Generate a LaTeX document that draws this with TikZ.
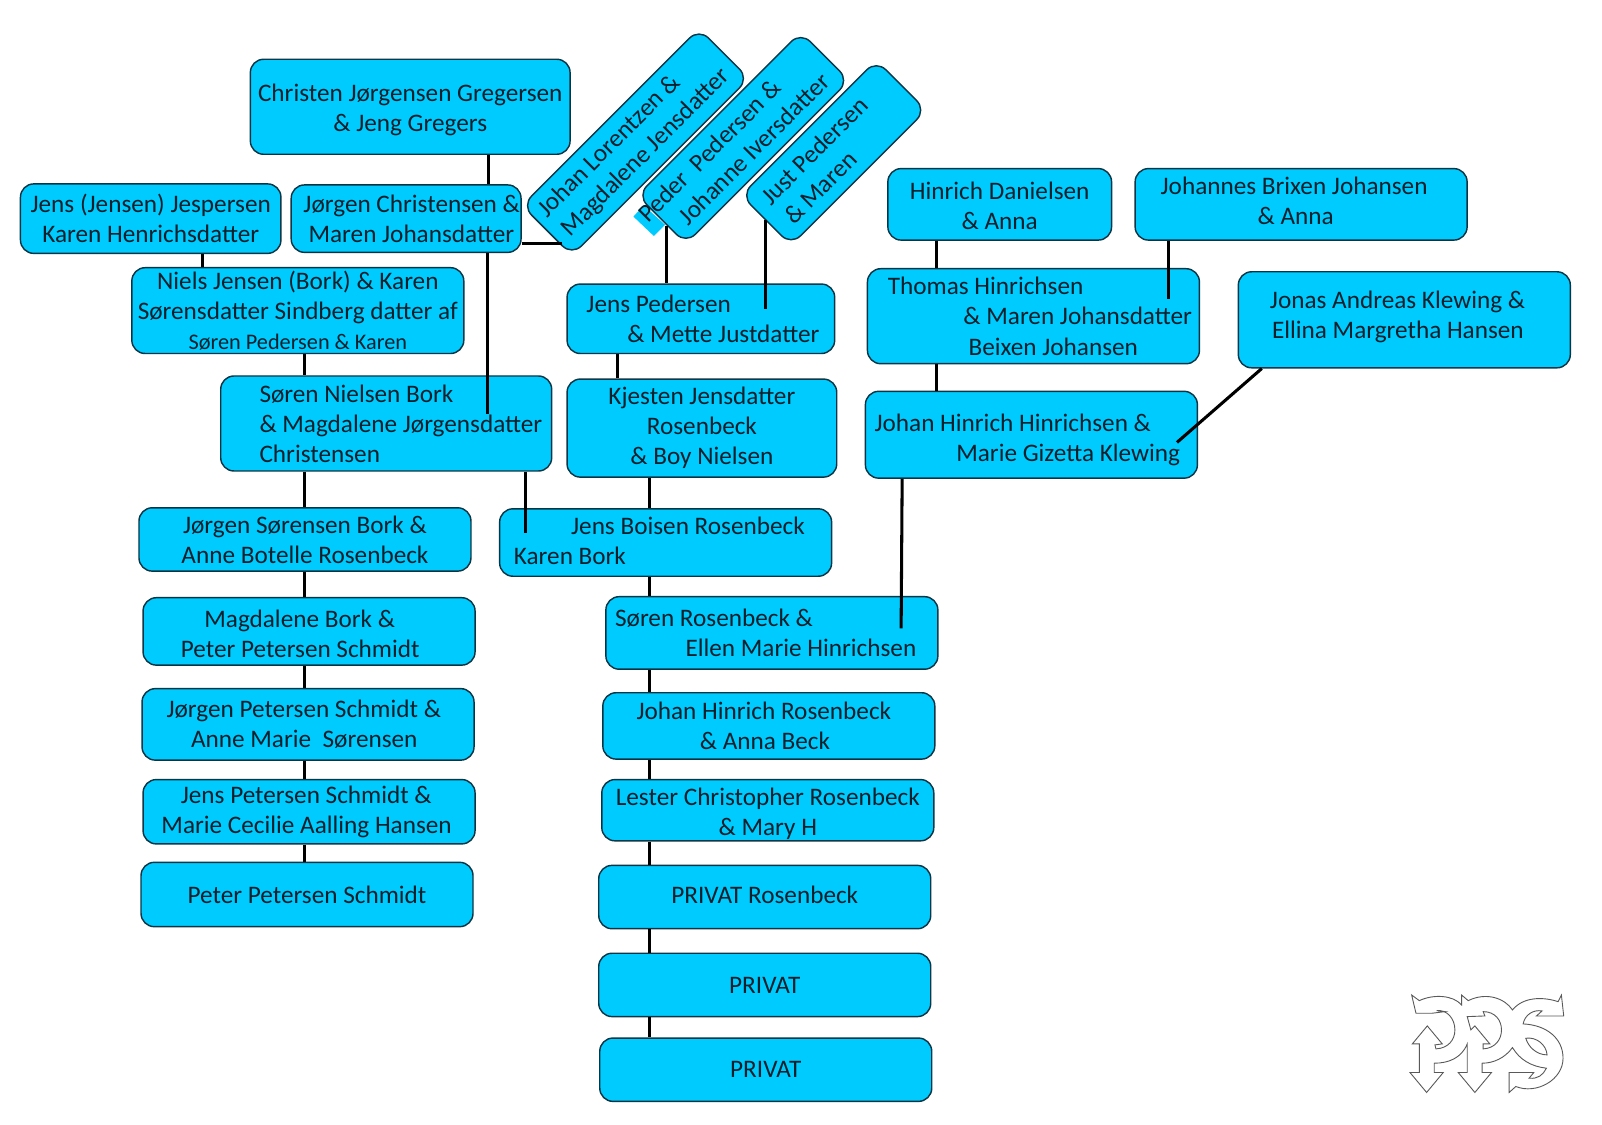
\documentclass[tikz,border=0pt]{standalone}
\usepackage{fontspec}
\setmainfont{Carlito}
\usepackage{tikz}
\usetikzlibrary{arrows.meta,positioning,calc}
\definecolor{fam-blue}{HTML}{00CBFF}
\definecolor{fam-edge}{HTML}{0B3544}
\definecolor{fam-text}{HTML}{06202B}
\newcommand{\droptext}[1]{\rule{0pt}{#1}}
\newcommand{\lifttext}[1]{\rule[-#1]{0pt}{0pt}}
\tikzset{
  famblock/.style={draw=fam-edge,fill=fam-blue,line width=0.8pt,rounded corners=0.26cm,inner sep=0pt,align=center,
    text=fam-text,font=\fontsize{14.05}{16.8}\selectfont},
  famleft/.style={famblock,align=flush left,text width=#1},
  famword/.style={inner sep=0pt,align=center,text=fam-text,font=\fontsize{14.05}{16.8}\selectfont},
  famline/.style={black,line width=1.7pt},
}
\begin{document}
\begin{tikzpicture}[x=0.02cm,y=-0.02cm]
  \useasboundingbox (0,0) rectangle (1568,1101.1);
  \node[famblock,minimum width=6.26cm,minimum height=1.86cm] (christen) at (401.5,104.5){\droptext{13.1pt}Christen Jørgensen Gregersen\\\& Jeng Gregers};
  \node[famblock,minimum width=5.1cm,minimum height=1.36cm] (jensjensen) at (147.5,214){Jens (Jensen) Jespersen\\Karen Henrichsdatter};
  \node[famleft=4.5cm,minimum height=1.32cm] (jorgenchr) at (397.5,214){\hspace*{0.24cm}Jørgen Christensen \&\\\hspace*{0.34cm}Maren Johansdatter};
  \node[famblock,minimum width=6.5cm,minimum height=1.68cm] (niels) at (291.5,304){Niels Jensen (Bork) \& Karen\\Sørensdatter Sindberg datter af\\{\fontsize{12.4}{15}\selectfont Søren Pedersen \& Karen}};
  \node[famleft=6.48cm,minimum height=1.86cm] (sorennielsen) at (378,414.5){\hspace*{0.76cm}Søren Nielsen Bork\\\hspace*{0.76cm}\& Magdalene Jørgensdatter\\\hspace*{0.76cm}Christensen};
  \node[famblock,minimum width=6.5cm,minimum height=1.24cm] (jorgenbork) at (298.5,528){Jørgen Sørensen Bork \&\\Anne Botelle Rosenbeck};
  \node[famleft=6.5cm,minimum height=1.32cm] (magdalene) at (302.5,618){\droptext{12.6pt}\hspace*{1.2cm}Magdalene Bork \&\\\hspace*{0.74cm}Peter Petersen Schmidt};
  \node[famleft=6.5cm,minimum height=1.4cm] (jorgenpet) at (301.5,709){\hspace*{0.48cm}Jørgen Petersen Schmidt \&\\\hspace*{0.96cm}Anne Marie\ \ Sørensen};
  \node[famleft=6.5cm,minimum height=1.26cm] (jenspet) at (302.5,794.5){\hspace*{0.74cm}Jens Petersen Schmidt \&\\\hspace*{0.36cm}Marie Cecilie Aalling Hansen};
  \node[famblock,minimum width=6.5cm,minimum height=1.26cm] (peterpet) at (300.5,875.5){Peter Petersen Schmidt};
  \node[famleft=5.24cm,minimum height=1.36cm] (jenspeder) at (686,312){\hspace*{0.38cm}Jens Pedersen\\\hspace*{1.18cm}\& Mette Justdatter};
  \node[famblock,minimum width=5.28cm,minimum height=1.92cm] (kjesten) at (687,419){Kjesten Jensdatter\\Rosenbeck\\\& Boy Nielsen};
  \node[famleft=6.5cm,minimum height=1.32cm] (jensboisen) at (651.5,531){\hspace*{1.4cm}Jens Boisen Rosenbeck\\\hspace*{0.28cm}Karen Bork\lifttext{2.3pt}};
  \node[famleft=6.5cm,minimum height=1.42cm] (sorenros) at (755.5,619.5){\hspace*{0.18cm}Søren Rosenbeck \&\\\hspace*{1.56cm}Ellen Marie Hinrichsen};
  \node[famleft=6.5cm,minimum height=1.3cm] (johanros) at (752.5,710.5){\hspace*{0.66cm}Johan Hinrich Rosenbeck\\\hspace*{1.9cm}\& Anna Beck};
  \node[famblock,minimum width=6.5cm,minimum height=1.2cm] (lester) at (751.5,793){\droptext{13.8pt}Lester Christopher Rosenbeck\\\& Mary H};
  \node[famblock,minimum width=6.5cm,minimum height=1.24cm] (privatros) at (748.5,878){PRIVAT Rosenbeck\lifttext{2.3pt}};
  \node[famblock,minimum width=6.5cm,minimum height=1.24cm] (privata) at (748.5,964){PRIVAT};
  \node[famblock,minimum width=6.5cm,minimum height=1.24cm] (privatb) at (749.5,1047){PRIVAT};
  \node[famblock,minimum width=4.38cm,minimum height=1.4cm] (hinrich) at (978.5,200){\droptext{11.8pt}Hinrich Danielsen\\\& Anna};
  \node[famleft=6.5cm,minimum height=1.4cm] (johannes) at (1273.5,200){\hspace*{0.5cm}Johannes Brixen Johansen\\\hspace*{2.4cm}\& Anna\lifttext{3.6pt}};
  \node[famleft=6.5cm,minimum height=1.86cm] (thomas) at (1011.5,309.5){\hspace*{0.4cm}Thomas Hinrichsen\\\hspace*{1.88cm}\& Maren Johansdatter\\\hspace*{1.98cm}Beixen Johansen};
  \node[famleft=6.5cm,minimum height=1.88cm] (jonas) at (1374.5,313){\hspace*{0.62cm}Jonas Andreas Klewing \&\\\hspace*{0.66cm}Ellina Margretha Hansen\lifttext{5.5pt}};
  \node[famleft=6.5cm,minimum height=1.7cm] (johanhin) at (1009.5,425.5){\droptext{15.4pt}\hspace*{0.18cm}Johan Hinrich Hinrichsen \&\\\hspace*{1.78cm}Marie Gizetta Klewing};
  \node[famblock,rotate=45,minimum width=4.9cm,minimum height=1.38cm] (johanlor) at (622,139){Johan Lorentzen \&\hspace*{0.84cm}\\Magdalene Jensdatter};
  \node[famblock,rotate=45,minimum width=4.52cm,minimum height=1.34cm] (pederped) at (727.5,135){};
  \fill[fam-blue] (620,212)--(630,201)--(651,220)--(640,231)--cycle;
  \node[famword,rotate=45] (pederword) at (pederped){Peder\ \ Pedersen \&\hspace*{1.28cm}\\Johanne Iversdatter};
  \node[famblock,rotate=45,minimum width=3.74cm,minimum height=1.38cm] (justped) at (816,149.5){Just Pedersen\hspace*{0.48cm}\\\& Maren\hspace*{1.32cm}};
  \coordinate (johanend) at (550,238);
  \coordinate (pederend) at (652,221);
  \coordinate (justend) at (749.5,215);
  \coordinate (justfoot) at (749.5,302);
  \coordinate (jorgenfoot) at (477,405);
  \coordinate (sorenfoot) at (514,522);
  \coordinate (brixenfoot) at (1144,293);
  \coordinate (klewingfoot) at (1152,433);
  \coordinate (rosenfoot) at (882,615);
  \draw[famline] (christen.south -| 478,0)--(jorgenchr.north -| 478,0);
  \draw[famline] (jorgenchr.south -| 477,0)--(jorgenfoot);
  \draw[famline] (jorgenchr.east |- johanend)--(johanend);
  \draw[famline] (jensjensen.south -| 198,0)--(niels.north -| 198,0);
  \draw[famline] (niels.south -| 298,0)--(sorennielsen.north -| 298,0);
  \draw[famline] (sorennielsen.south -| 298,0)--(jorgenbork.north -| 298,0);
  \draw[famline] (sorennielsen.south -| 514,0)--(sorenfoot);
  \draw[famline] (jorgenbork.south -| 298,0)--(magdalene.north -| 298,0);
  \draw[famline] (magdalene.south -| 298,0)--(jorgenpet.north -| 298,0);
  \draw[famline] (jorgenpet.south -| 298,0)--(jenspet.north -| 298,0);
  \draw[famline] (jenspet.south -| 298,0)--(peterpet.north -| 298,0);
  \draw[famline] (pederend)--(jenspeder.north -| pederend);
  \draw[famline] (justend)--(justfoot);
  \draw[famline] (jenspeder.south -| 604,0)--(kjesten.north -| 604,0);
  \draw[famline] (kjesten.south -| 636,0)--(jensboisen.north -| 636,0);
  \draw[famline] (jensboisen.south -| 636,0)--(sorenros.north -| 636,0);
  \draw[famline] (sorenros.south -| 636,0)--(johanros.north -| 636,0);
  \draw[famline] (johanros.south -| 636,0)--(lester.north -| 636,0);
  \draw[famline] (lester.south -| 636,0)--(privatros.north -| 636,0);
  \draw[famline] (privatros.south -| 636,0)--(privata.north -| 636,0);
  \draw[famline] (privata.south -| 636,0)--(privatb.north -| 636,0);
  \draw[famline] (hinrich.south -| 917,0)--(thomas.north -| 917,0);
  \draw[famline] (johannes.south -| 1144,0)--(brixenfoot);
  \draw[famline] (thomas.south -| 917,0)--(johanhin.north -| 917,0);
  \draw[famline] (jonas.south -| 1235,0)--(klewingfoot);
  \draw[famline] (johanhin.south -| 883,0)--(rosenfoot);
  \begin{scope}[shift={(1360.5,959.2)},x=0.00652cm,y=-0.00652cm,draw=black!65,fill=white,line width=0.5pt]
    \filldraw (65,45)--(88,62) .. controls (130,42) and (190,45) .. (215,75)--(215,45)--(235,62) .. controls (290,35) and (345,55) .. (368,90) .. controls (400,50) and (460,50) .. (505,65)--(515,45)--(522,108)--(440,108)--(457,93) .. controls (430,88) and (405,105) .. (400,132) .. controls (470,135) and (520,175) .. (520,235) .. controls (520,300) and (440,345) .. (378,320)--(358,338)--(358,278)--(432,278)--(418,295) .. controls (445,298) and (460,285) .. (470,265) .. controls (425,260) and (390,240) .. (368,203) .. controls (345,235) and (310,250) .. (277,250)--(277,278)--(305,278)--(255,338)--(205,278)--(232,278)--(232,192) .. controls (215,235) and (175,250) .. (133,250)--(133,278)--(160,278)--(110,338)--(60,278)--(88,278)--(88,192)--(67,192)--(112,138)--(157,192)--(135,195)--(138,207) .. controls (175,205) and (195,180) .. (195,150) .. controls (195,115) and (170,88) .. (140,92)--(165,95)--(125,100)--(78,100)--cycle;
    \filldraw (232,110)--(285,108)--(280,95) .. controls (315,95) and (335,120) .. (335,150) .. controls (335,180) and (315,205) .. (280,207)--(280,192)--(300,192)--(255,138)--(243,150)--cycle;
    \filldraw (408,175) .. controls (440,170) and (470,195) .. (472,225) .. controls (440,225) and (415,200) .. (408,175)--cycle;
  \end{scope}
\end{tikzpicture}
\end{document}
